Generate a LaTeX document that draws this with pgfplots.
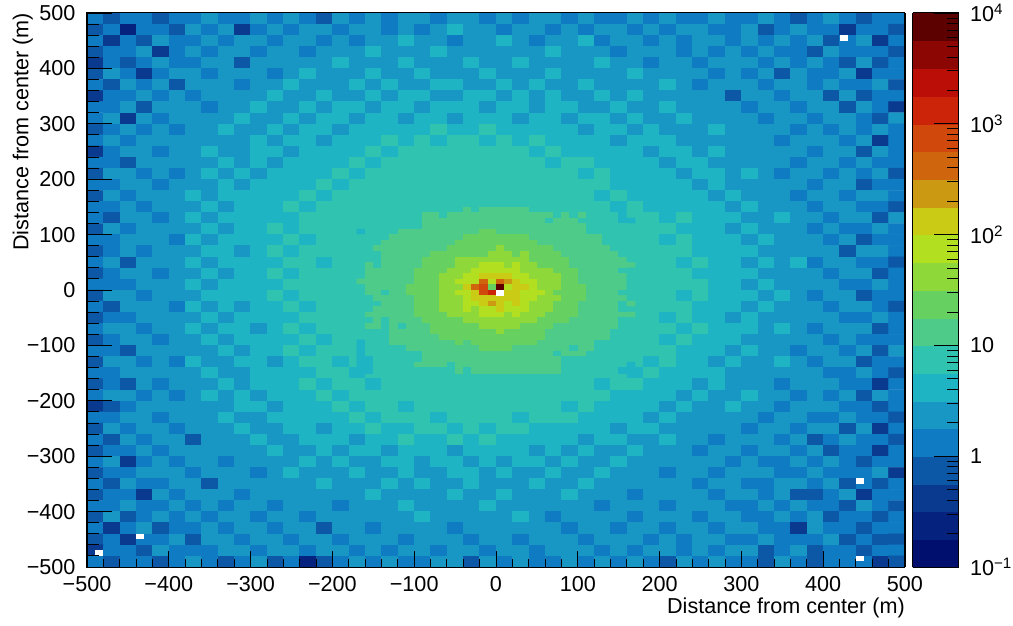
\documentclass[border=0pt]{standalone}
\usepackage{fontspec}
\setmainfont{Liberation Sans}
\usepackage{pgfplots}
\pgfplotsset{compat=1.18}

\newcommand\lab{\fontsize{21.6}{25}\selectfont}

% Cells are typed row by row as they look on the page (top row first).
% A value is the colour band of the cell, 0..19: band n holds counts from
% 10^(-1+n/4) to 10^(-1+(n+1)/4).
\newcount\cx \newcount\cy \newcount\cstep \newcount\cstart
\def\coords{}
\def\eatcells#1 {\ifx\relax#1\else
  \xdef\coords{\coords(\the\cx,\the\cy)[#1.5]}%
  \global\advance\cx by\cstep
  \expandafter\eatcells\fi}
\def\mrow#1{\global\cx=\cstart \eatcells #1 \relax {} \global\advance\cy by-\cstep}

% outer part, 20 m cells
\cstep=20 \cstart=-490 \global\cy=490
\mrow{4 3 4 4 3 4 4 5 4 4  5 4 5 4 3 5 4 5 4 5  5 4 5 5 4 5 4 5 5 4  5 4 4 5 4 5 4 4 5 4  4 5 4 3 4 5 4 3 4 4}
\mrow{3 4 1 4 4 3 5 4 5 2  4 5 4 5 5 4 5 5 4 5  4 5 6 5 5 4 5 5 4 5  4 5 5 4 5 4 5 5 4 4  5 3 4 5 4 4 2 4 4 3}
\mrow{4 2 4 3 5 4 4 5 4 5  5 4 5 5 4 5 4 5 5 6  5 5 4 5 5 6 5 4 5 5  6 4 5 5 4 5 4 5 5 4  5 4 5 4 5 3 4 5 2 4}
\mrow{3 4 4 5 2 4 5 4 5 5  4 5 5 4 5 5 5 6 5 5  5 6 5 5 5 5 5 5 6 5  5 5 4 5 5 5 4 5 4 5  4 5 4 4 3 5 4 4 4 3}
\mrow{2 4 3 4 5 4 4 5 5 3  5 5 5 5 5 6 5 5 5 6  5 5 5 6 5 5 6 5 5 5  5 6 5 5 4 5 5 4 5 5  5 4 5 4 5 4 3 5 3 4}
\mrow{3 5 4 2 4 5 5 4 5 5  5 4 5 6 5 5 5 6 5 5  6 5 5 5 6 5 5 5 6 5  5 5 5 6 5 5 5 5 4 5  4 5 3 5 4 4 5 2 4 4}
\mrow{4 3 5 4 5 3 5 5 5 4  5 5 6 5 5 5 6 5 6 5  5 6 6 5 5 6 5 6 5 5  6 5 5 5 5 6 5 4 5 5  5 4 5 5 4 5 4 4 5 3}
\mrow{2 4 4 5 4 5 4 5 5 5  5 6 5 5 6 5 5 6 5 6  6 5 5 6 6 5 6 5 6 5  5 6 5 6 5 5 5 5 5 3  5 5 4 5 5 3 5 3 4 4}
\mrow{4 4 5 3 5 5 5 4 5 5  6 5 5 6 5 6 6 5 6 6  5 6 6 6 5 6 6 5 6 6  5 5 6 5 5 6 5 5 5 5  4 5 5 4 5 5 3 5 4 2}
\mrow{4 5 2 5 4 5 5 5 5 6  5 5 6 5 6 6 5 6 6 5  6 6 5 6 6 6 5 6 6 5  6 6 5 6 5 5 6 5 5 5  5 4 5 5 4 5 5 4 3 5}
\mrow{3 4 5 4 5 4 5 5 6 5  5 6 5 6 6 5 6 6 6 6  6 7 6 6 7 6 6 6 6 6  5 6 6 5 6 5 5 5 6 5  5 5 5 4 5 4 5 4 5 4}
\mrow{4 5 4 5 5 5 5 5 5 5  6 5 6 6 5 6 6 6 7 6  7 6 7 7 6 7 6 7 6 6  6 6 5 6 6 6 5 5 5 5  5 5 4 5 5 5 4 5 2 4}
\mrow{2 4 5 5 4 5 5 6 5 5  6 6 5 6 6 6 6 7 6 7  7 7 7 7 7 7 7 6 7 6  6 6 6 6 5 6 6 5 6 5  5 5 5 5 4 5 5 3 5 4}
\mrow{4 4 3 5 5 5 5 5 6 5  6 5 6 6 6 6 7 6 7 7  7 7 7 7 7 7 7 7 6 7  7 6 6 6 6 5 6 6 5 5  5 5 5 4 5 5 4 5 4 4}
\mrow{3 5 5 4 5 4 5 6 5 6  5 6 6 6 6 7 6 7 7 7  7 7 7 7 7 7 7 7 7 7  6 7 6 6 6 6 5 6 6 5  6 5 4 5 5 4 5 4 5 3}
\mrow{4 4 5 5 4 5 5 5 6 5  6 6 6 6 7 6 7 7 7 7  7 7 7 7 7 7 7 7 7 7  7 7 6 6 6 6 6 5 6 5  5 5 5 5 4 5 5 3 4 4}
\mrow{3 5 4 5 5 5 6 5 6 6  6 6 6 7 6 7 7 7 7 7  7 7 7 7 7 7 7 7 7 7  7 6 7 6 6 6 6 6 5 6  5 5 5 4 5 5 4 5 5 4}
\mrow{4 4 5 4 5 5 5 6 5 6  6 6 7 6 7 7 7 7 7 7  7 7 7 7 7 7 7 7 7 7  7 7 6 7 6 6 6 6 6 5  6 5 5 5 4 5 5 4 4 3}
\mrow{4 3 5 5 4 5 6 5 6 6  6 6 6 7 7 7 7 8 8 8  8 8 8 8 8 8 8 8 8 8  8 8 8 7 7 6 7 6 6 6  5 5 6 5 5 4 5 5 3 5}
\mrow{3 5 4 5 5 5 5 6 5 6  6 7 6 7 7 7 7 8 8 8  8 8 8 8 8 8 8 8 8 8  8 8 8 7 7 7 6 6 6 5  6 5 5 5 4 5 4 4 5 4}
\mrow{4 4 5 5 5 4 6 5 6 6  6 6 7 6 7 7 7 8 8 8  8 8 8 8 8 8 8 8 8 8  8 8 8 7 7 6 7 6 6 6  5 6 5 5 5 4 5 3 4 4}
\mrow{3 4 5 4 5 5 5 6 6 5  6 7 6 7 7 7 7 8 8 8  8 8 8 8 8 8 8 8 8 8  8 8 8 7 7 7 7 6 6 6  6 5 5 5 5 5 3 5 5 4}
\mrow{4 5 3 5 5 5 6 5 6 6  6 6 7 7 6 7 7 8 8 8  8 8 8 8 8 8 8 8 8 8  8 8 8 7 7 7 6 7 6 6  5 6 5 6 4 5 5 4 4 3}
\mrow{3 4 5 5 4 5 5 6 5 6  6 7 6 7 7 7 7 8 8 8  8 8 8 8 8 8 8 8 8 8  8 8 8 7 7 7 7 6 6 6  6 5 5 5 5 4 5 5 3 4}
\mrow{4 4 4 5 5 5 6 5 6 6  6 6 7 7 7 7 7 8 8 8  8 8 8 8 8 8 8 8 8 8  8 8 8 7 7 7 7 7 6 6  5 6 5 5 5 5 4 4 5 4}
\mrow{3 5 5 4 5 5 5 6 6 6  6 7 6 7 7 7 7 8 8 8  8 8 8 8 8 8 8 8 8 8  8 8 8 7 7 7 6 7 6 6  6 5 6 5 4 5 5 3 4 4}
\mrow{4 3 5 5 5 4 6 5 6 5  6 6 7 6 7 7 7 8 8 8  8 8 8 8 8 8 8 8 8 8  8 8 8 7 7 7 7 6 6 6  5 6 5 5 5 4 5 5 4 3}
\mrow{3 4 4 5 5 5 5 6 5 6  6 6 6 7 7 7 7 8 8 8  8 8 8 8 8 8 8 8 8 8  8 8 8 7 7 6 7 6 6 5  6 5 5 5 5 5 4 4 5 4}
\mrow{4 5 5 4 5 5 6 5 6 6  5 6 7 6 7 7 7 8 8 8  8 8 8 8 8 8 8 8 8 8  8 8 8 7 7 7 6 7 6 6  6 5 6 5 4 5 5 5 3 4}
\mrow{3 4 5 5 4 5 5 6 5 6  6 6 6 7 6 7 7 8 8 8  8 8 8 8 8 8 8 8 8 8  8 8 8 7 7 6 7 6 6 6  5 5 5 5 5 4 5 4 4 4}
\mrow{4 4 3 5 5 5 5 5 6 5  6 6 7 6 7 7 7 8 8 8  8 8 8 8 8 8 8 8 8 8  8 8 8 7 7 7 6 6 6 5  6 5 5 4 5 5 4 5 3 5}
\mrow{3 5 5 4 5 4 6 5 5 6  6 5 6 7 7 6 7 8 8 8  8 8 8 8 8 8 8 8 8 8  8 8 8 7 6 7 6 6 5 6  5 5 6 5 4 5 5 3 4 4}
\mrow{4 4 5 5 5 5 5 6 5 5  6 6 6 6 7 7 6 7 7 7  7 7 7 7 7 7 7 7 7 7  7 7 7 6 7 6 6 6 6 5  5 5 5 5 5 4 4 5 4 3}
\mrow{3 4 3 5 4 5 5 5 6 5  6 6 6 7 6 7 7 6 7 7  7 7 7 7 7 7 7 7 7 7  7 6 7 7 6 6 6 5 6 5  5 5 4 5 5 5 4 4 2 4}
\mrow{4 5 5 4 5 4 5 6 5 6  5 6 6 6 7 6 7 7 7 7  7 7 7 7 7 7 7 7 7 7  7 7 6 6 6 6 5 6 5 5  6 5 5 4 5 4 5 3 5 4}
\mrow{2 3 4 5 5 5 5 5 5 6  6 5 6 6 6 7 6 7 7 6  7 7 7 7 7 7 7 7 7 6  7 6 6 6 6 5 6 5 5 6  5 5 4 5 5 5 4 4 3 4}
\mrow{4 4 5 5 4 5 5 5 6 5  5 6 6 6 6 6 7 6 7 7  7 6 7 7 7 7 6 7 7 7  6 6 6 6 5 6 5 5 5 5  5 4 5 5 4 4 5 4 4 3}
\mrow{3 5 4 5 5 4 5 5 5 6  5 5 6 6 5 6 6 7 6 6  7 7 6 7 6 7 7 6 6 6  6 6 5 6 6 5 5 5 5 5  4 5 5 4 5 5 3 5 2 4}
\mrow{4 3 5 4 5 5 3 5 5 5  6 5 5 6 6 6 5 6 6 7  6 6 7 6 7 6 6 6 6 6  5 6 6 5 5 6 5 5 4 5  5 5 4 5 3 4 5 4 4 3}
\mrow{3 4 4 5 4 5 5 5 5 5  5 6 5 5 6 5 6 6 5 6  6 6 5 6 6 6 6 5 6 5  6 5 5 6 5 5 5 4 5 5  4 5 5 4 5 3 4 4 2 4}
\mrow{4 5 2 4 5 4 5 5 4 5  5 5 5 6 5 6 5 5 6 6  5 6 6 5 6 5 6 6 5 6  5 5 6 5 5 5 5 5 5 4  5 4 4 5 4 5 4 3 4 4}
\mrow{3 4 4 5 5 5 4 5 5 5  4 5 6 5 5 5 6 5 5 6  5 5 6 6 5 6 5 5 6 5  5 6 5 5 5 4 5 5 4 5  5 5 4 4 5 4 4 4 5 2}
\mrow{4 3 5 4 4 5 5 3 5 5  5 5 5 5 6 5 5 5 6 5  6 5 5 6 5 5 5 6 5 5  6 5 5 5 5 5 5 4 5 5  4 4 5 5 4 5 3 4 3 4}
\mrow{3 4 4 2 5 4 5 5 5 4  5 5 5 5 5 5 5 6 5 5  5 5 6 5 5 6 5 5 5 6  5 5 5 4 5 5 5 5 4 5  5 4 5 3 3 4 5 2 4 4}
\mrow{4 4 5 4 4 5 4 5 4 5  5 4 5 5 5 4 5 5 5 6  5 5 5 5 6 5 5 5 5 5  5 4 5 5 5 4 5 5 5 4  4 5 4 5 4 4 3 5 4 3}
\mrow{3 5 3 4 5 4 5 4 5 5  4 5 5 4 5 5 5 5 5 5  6 5 5 5 5 5 6 5 4 5  5 5 5 4 5 5 5 4 5 5  4 4 5 4 5 3 4 4 3 4}
\mrow{4 2 4 5 3 4 4 5 4 5  5 4 5 5 3 5 5 4 5 5  5 5 4 5 5 5 5 5 5 4  5 5 4 5 5 4 5 5 4 5  5 4 4 2 5 4 4 3 4 4}
\mrow{3 4 2 4 4 5 3 5 5 4  5 5 4 5 5 4 5 5 5 4  5 5 5 4 5 5 4 5 5 5  4 5 5 5 4 5 4 5 5 4  4 5 4 4 4 5 3 4 3 3}
\mrow{2 4 4 3 5 4 4 4 5 5  4 5 5 4 5 5 4 5 4 5  5 4 5 5 4 5 5 4 5 5  5 4 5 4 5 5 4 5 4 5  5 3 4 5 3 4 4 3 4 4}
\mrow{4 3 4 4 3 4 5 4 3 4  5 3 4 1 3 4 5 4 5 4  4 5 5 3 5 4 5 4 4 5  4 5 4 5 4 3 5 4 5 4  4 3 5 4 3 4 4 4 2 3}
\let\coarse\coords

% centre, 10 m cells
\def\coords{}
\cstep=10 \cstart=-165 \global\cy=145
\mrow{7 7 7 7 7 7 7 7 7 7  7 7 7 8 7 8 8 8 8 8  8 7 7 7 7 7 7 7 7 7  7 6 6 7}
\mrow{7 7 7 7 7 7 7 7 8 8  7 8 8 8 8 8 8 8 8 8  8 8 8 8 7 8 7 8 7 7  7 7 6 7}
\mrow{7 7 7 7 7 7 7 7 8 8  8 8 8 8 8 8 8 8 8 8  8 8 8 7 8 8 8 7 7 7  7 7 6 6}
\mrow{7 7 7 7 7 7 7 7 8 8  8 8 8 8 8 8 8 8 8 8  8 8 8 8 8 8 8 8 7 7  7 7 7 7}
\mrow{6 7 7 7 7 8 8 8 8 8  8 8 8 8 8 9 9 8 8 8  8 8 8 8 8 8 8 8 7 7  7 7 7 7}
\mrow{7 7 7 7 8 8 8 8 8 8  8 8 8 9 9 9 9 9 9 9  9 8 8 8 8 8 8 8 8 8  7 7 7 7}
\mrow{7 7 7 8 8 8 8 8 8 8  8 8 9 9 9 9 9 9 9 9  9 9 8 8 8 8 8 8 8 8  7 7 7 7}
\mrow{7 7 8 8 8 8 8 8 8 8  8 9 9 9 9 9 9 10 9 9  9 9 9 9 8 8 8 8 8 8  8 7 7 7}
\mrow{7 7 7 8 8 8 8 8 8 9  9 9 9 9 9 9 10 10 10 9  10 9 9 9 9 8 8 8 8 8  8 8 7 7}
\mrow{7 7 7 8 8 8 8 8 9 9  9 9 10 10 10 10 10 10 10 10  10 9 9 9 9 9 8 8 8 8  8 8 8 7}
\mrow{7 8 7 8 8 8 8 8 9 9  9 9 10 10 10 11 11 11 10 11  10 10 9 9 9 9 8 8 8 8  8 8 8 8}
\mrow{7 8 8 8 8 8 8 9 9 9  9 10 10 10 11 11 11 11 11 11  10 10 10 10 9 9 9 8 8 8  8 8 7 7}
\mrow{7 8 8 8 8 8 8 9 9 9  10 10 10 11 11 12 12 12 12 11  11 10 10 10 10 9 9 8 8 8  8 8 8 7}
\mrow{8 8 8 8 8 8 8 9 9 9  10 10 11 11 11 14 11 14 13 12  11 11 10 10 10 9 9 8 8 8  8 8 8 7}
\mrow{7 8 8 8 8 8 9 9 9 9  10 10 10 12 14 15 9 19 11 12  12 11 10 10 10 9 9 9 8 8  8 8 8 7}
\mrow{7 8 8 7 8 8 9 9 9 9  10 10 11 11 12 15 16 19 12 12  11 11 11 10 9 9 9 9 8 8  8 8 7 7}
\mrow{7 7 8 8 8 8 8 9 9 9  10 10 10 11 12 12 12 12 12 12  11 11 10 10 10 9 9 9 8 8  8 8 8 7}
\mrow{7 7 7 8 8 8 8 9 9 9  10 10 10 11 11 12 13 12 11 12  11 10 10 10 9 9 9 8 8 8  8 8 7 8}
\mrow{7 7 8 8 8 8 8 9 9 9  10 10 10 11 10 11 11 12 11 11  11 10 10 10 9 9 9 8 8 8  8 8 7 7}
\mrow{7 8 8 8 8 8 8 9 9 9  9 10 10 10 10 11 11 11 10 11  10 10 10 9 9 9 9 8 8 8  8 8 8 8}
\mrow{7 7 8 7 8 8 8 8 9 9  9 9 9 10 10 10 10 10 10 10  10 10 9 9 9 9 8 8 8 8  8 8 7 7}
\mrow{7 8 8 7 8 7 8 8 8 9  9 9 9 9 9 10 10 10 10 10  9 9 9 9 8 8 8 8 8 8  8 8 7 7}
\mrow{7 7 7 7 8 8 8 8 8 9  9 9 9 9 9 9 9 10 9 9  9 9 9 8 8 8 8 8 8 8  8 7 7 7}
\mrow{7 7 7 7 8 8 8 8 8 8  9 9 9 9 9 9 9 9 9 9  9 9 9 8 8 8 8 8 8 8  8 7 7 7}
\mrow{6 7 7 7 8 8 8 8 8 8  8 8 9 8 9 9 9 9 9 9  9 9 8 8 8 8 8 8 8 7  7 7 7 7}
\mrow{6 7 7 7 7 7 8 8 8 8  8 8 8 8 8 9 9 9 9 8  8 8 8 8 8 8 7 8 8 7  7 7 7 7}
\mrow{6 7 7 7 7 7 7 7 8 8  8 8 8 8 8 8 8 8 8 8  8 8 8 8 7 8 8 8 7 7  7 7 7 7}
\mrow{6 6 7 7 7 7 7 7 8 8  8 8 8 8 8 8 8 8 8 8  8 8 8 8 8 7 7 7 7 7  7 7 7 7}
\mrow{6 6 7 7 7 7 7 8 8 8  8 7 8 8 8 8 8 8 8 8  8 8 8 8 8 7 7 7 7 7  7 7 7 6}
\mrow{6 6 7 7 7 7 7 7 7 7  7 7 8 7 8 8 8 8 8 8  8 8 8 8 8 7 7 7 7 7  7 7 6 6}
\let\centre\coords

\newcommand\drawcells[2]{\addplot[matrix plot*,mesh/cols=#1,point meta=explicit,forget plot] coordinates {#2};}
\newcommand\emptybin[2]{\addplot[draw=none,fill=white,forget plot] coordinates {(#1,#2) (#1+10,#2) (#1+10,#2+10) (#1,#2+10)} --cycle;}

\begin{document}
\begin{tikzpicture}
\path[use as bounding box] (0,0) rectangle (1013pt,625pt);
\begin{axis}[
  at={(87pt,58pt)},
  anchor=south west,
  scale only axis,
  width=818pt,
  height=554pt,
  xmin=-500, xmax=500,
  ymin=-500, ymax=500,
  axis on top,
  axis line style={line width=1pt},
  tick style={black,line width=0.9pt},
  tick align=inside,
  tick pos=left,
  xtick={-500,-400,...,500},
  ytick={-500,-400,...,500},
  xticklabels={−500,−400,−300,−200,−100,0,100,200,300,400,500},
  yticklabels={−500,−400,−300,−200,−100,0,100,200,300,400,500},
  minor tick num=4,
  major tick length=16pt,
  minor tick length=8pt,
  tick label style={font=\lab},
  xticklabel style={yshift=-6pt},
  yticklabel style={xshift=-8pt},
  xlabel={Distance from center (m)},
  ylabel={Distance from center (m)},
  xlabel style={font=\lab,at={(axis description cs:1,0)},anchor=north east,inner sep=0pt,yshift=-31pt},
  ylabel style={font=\lab,at={(axis description cs:0,1)},anchor=south east,inner sep=0pt,yshift=54pt},
  colormap={rootrainbow}{
    rgb255=(0,15,110) rgb255=(6,34,127) rgb255=(10,58,144) rgb255=(12,88,166)
    rgb255=(14,123,194) rgb255=(24,150,196) rgb255=(30,180,196) rgb255=(48,196,176)
    rgb255=(78,203,136) rgb255=(102,208,96) rgb255=(143,216,58) rgb255=(178,224,32)
    rgb255=(201,203,20) rgb255=(203,154,18) rgb255=(207,101,12) rgb255=(208,72,12)
    rgb255=(204,36,8) rgb255=(186,14,6) rgb255=(140,6,4) rgb255=(92,0,0)
  },
  colormap access=piecewise constant,
  point meta min=0,
  point meta max=20,
  colorbar sampled,
  colorbar style={
    samples=21,
    at={(parent axis.north east)},
    anchor=north west,
    xshift=-1pt,
    scale only axis,
    width=46pt,
    height=554pt,
    ytick={0,4,8,12,16,20},
    yticklabels={10\textsuperscript{−1},1,10,10\textsuperscript{2},10\textsuperscript{3},10\textsuperscript{4}},
    minor ytick={1.204,1.908,2.408,2.796,3.113,3.381,3.612,3.816,
      5.204,5.908,6.408,6.796,7.113,7.381,7.612,7.816,
      9.204,9.908,10.408,10.796,11.113,11.381,11.612,11.816,
      13.204,13.908,14.408,14.796,15.113,15.381,15.612,15.816,
      17.204,17.908,18.408,18.796,19.113,19.381,19.612,19.816},
    tick align=inside,
    ytick pos=right,
    yticklabel pos=right,
    major tick length=25pt,
    minor tick length=12pt,
    tick label style={font=\lab},
    yticklabel style={xshift=8pt},
    axis line style={line width=1pt},
    tick style={black,line width=0.9pt},
  },
]
\expandafter\drawcells\expandafter{\expandafter5\expandafter0\expandafter}\expandafter{\coarse}
\expandafter\drawcells\expandafter{\expandafter3\expandafter4\expandafter}\expandafter{\centre}
\emptybin{420}{450}
\emptybin{440}{-350}
\emptybin{440}{-490}
\emptybin{-440}{-450}
\emptybin{-490}{-480}
\emptybin{0}{-10}
\end{axis}
% the y ticks of the reference are longer than its x ticks
\begin{axis}[
  at={(87pt,58pt)},
  anchor=south west,
  scale only axis,
  width=818pt,
  height=554pt,
  xmin=-500, xmax=500,
  ymin=-500, ymax=500,
  hide x axis,
  axis line style={line width=1pt},
  tick style={black,line width=0.9pt},
  tick align=inside,
  ytick pos=left,
  ytick={-500,-400,...,500},
  yticklabels={},
  minor y tick num=4,
  major tick length=25pt,
  minor tick length=12pt,
]
\end{axis}
\end{tikzpicture}
\end{document}
